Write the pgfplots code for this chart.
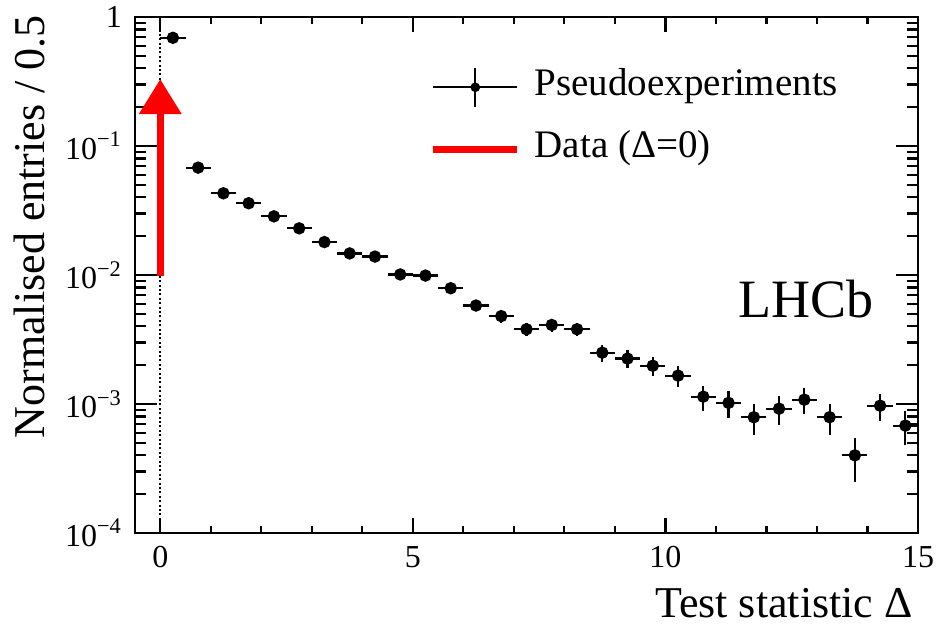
\documentclass[border=0pt]{standalone}
\usepackage{fontspec}
\setmainfont{Liberation Serif}
\usepackage{pgfplots}
\usepackage{pgfplotstable}
\pgfplotsset{compat=1.18}
\usetikzlibrary{arrows.meta}

\pgfplotstableread{
x y ex ey
0.25 0.69 0.25 0.006
0.75 0.068 0.25 0.002
1.25 0.043 0.25 0.0016
1.75 0.036 0.25 0.0014
2.25 0.0285 0.25 0.0013
2.75 0.023 0.25 0.0011
3.25 0.018 0.25 0.001
3.75 0.0147 0.25 0.0009
4.25 0.0139 0.25 0.0009
4.75 0.0101 0.25 0.00075
5.25 0.0099 0.25 0.00074
5.75 0.0079 0.25 0.00066
6.25 0.0058 0.25 0.00057
6.75 0.0048 0.25 0.00052
7.25 0.0038 0.25 0.00046
7.75 0.0041 0.25 0.00048
8.25 0.0038 0.25 0.00046
8.75 0.0025 0.25 0.00037
9.25 0.00225 0.25 0.00035
9.75 0.00198 0.25 0.00033
10.25 0.00166 0.25 0.0003
10.75 0.00114 0.25 0.00025
11.25 0.00102 0.25 0.00024
11.75 0.00079 0.25 0.00021
12.25 0.00092 0.25 0.00023
12.75 0.00108 0.25 0.00025
13.25 0.00079 0.25 0.00021
13.75 0.0004 0.25 0.00015
14.25 0.00097 0.25 0.00023
14.75 0.00068 0.25 0.0002
}\pseudo

\begin{document}
\begin{tikzpicture}
\begin{axis}[
  scale only axis, width=391.5pt, height=258pt,
  ymode=log, xmin=-0.5, xmax=15, ymin=1e-4, ymax=1,
  xtick={0,5,10,15}, minor x tick num=4,
  ytick={1e-4,1e-3,1e-2,1e-1,1},
  minor ytick={2e-4,3e-4,4e-4,5e-4,6e-4,7e-4,8e-4,9e-4,
               2e-3,3e-3,4e-3,5e-3,6e-3,7e-3,8e-3,9e-3,
               2e-2,3e-2,4e-2,5e-2,6e-2,7e-2,8e-2,9e-2,
               2e-1,3e-1,4e-1,5e-1,6e-1,7e-1,8e-1,9e-1},
  yticklabels={10\textsuperscript{−4},10\textsuperscript{−3},10\textsuperscript{−2},10\textsuperscript{−1},1},
  /pgf/number format/assume math mode=true,
  axis line style={line width=1.4pt},
  every tick/.style={black, line width=1.1pt},
  tick align=inside, tick pos=both,
  x tick style={/pgfplots/major tick length=7.5pt, /pgfplots/minor tick length=3.75pt},
  y tick style={/pgfplots/major tick length=11pt, /pgfplots/minor tick length=5.5pt},
  tick label style={font=\fontsize{16}{18}\selectfont},
  xticklabel style={yshift=-3pt},
  yticklabel style={xshift=-3pt},
  legend style={draw=none, fill=none, at={(rel axis cs:0.376,0.9045)}, anchor=north west,
    inner sep=0pt, font=\fontsize{19.5}{22}\selectfont, row sep=12pt,
    nodes={inner sep=0pt, text height=13pt, text depth=4.5pt},
    /tikz/every odd column/.append style={column sep=7pt}},
  legend cell align=left,
]
\coordinate (SW) at (rel axis cs:0,0);
\coordinate (NW) at (rel axis cs:0,1);
\coordinate (SE) at (rel axis cs:1,0);

\addplot[black, line width=1pt, dash pattern=on 1pt off 1.2pt, forget plot]
  coordinates {(0,1e-4) (0,1)};

\addplot[black, only marks, mark=*, mark size=2.6pt, line width=1pt, forget plot,
  error bars/.cd, x dir=both, x explicit, y dir=both, y explicit,
  error mark=none, error bar style={line width=1.1pt, black}]
  table[x=x, y=y, x error=ex, y error=ey] {\pseudo};

\addplot[red, line width=3.5pt, -{Triangle[width=20.5pt,length=17.5pt]}, forget plot]
  coordinates {(0,0.0098) (0,0.33)};

\addlegendimage{legend image code/.code={
  \draw[black, line width=1.1pt] (0pt,0pt) -- (42pt,0pt);
  \draw[black, line width=1.1pt] (21pt,-9.75pt) -- (21pt,9.75pt);
  \fill[black] (21pt,0pt) circle (2.2pt);}}
\addlegendentry{Pseudoexperiments}
\addlegendimage{legend image code/.code={
  \draw[red, line width=3.5pt] (0pt,0pt) -- (42pt,0pt);}}
\addlegendentry{Data (Δ=0)}

\node[anchor=base east, inner sep=0pt, font=\fontsize{27}{30}\selectfont]
  at (rel axis cs:0.944,0.4167) {LHCb};
\end{axis}
\node[rotate=90, anchor=base east, inner sep=0pt, font=\fontsize{22}{24}\selectfont]
  at ([xshift=-45pt,yshift=1pt]NW) {Normalised entries / 0.5};
\node[anchor=base east, inner sep=0pt, font=\fontsize{22}{24}\selectfont]
  at ([xshift=-2.5pt,yshift=-42pt]SE) {Test statistic Δ};
\pgfresetboundingbox
\path ([shift={(-67.5pt,-47.5pt)}]SW) rectangle ++(468pt,314pt);
\end{tikzpicture}
\end{document}
